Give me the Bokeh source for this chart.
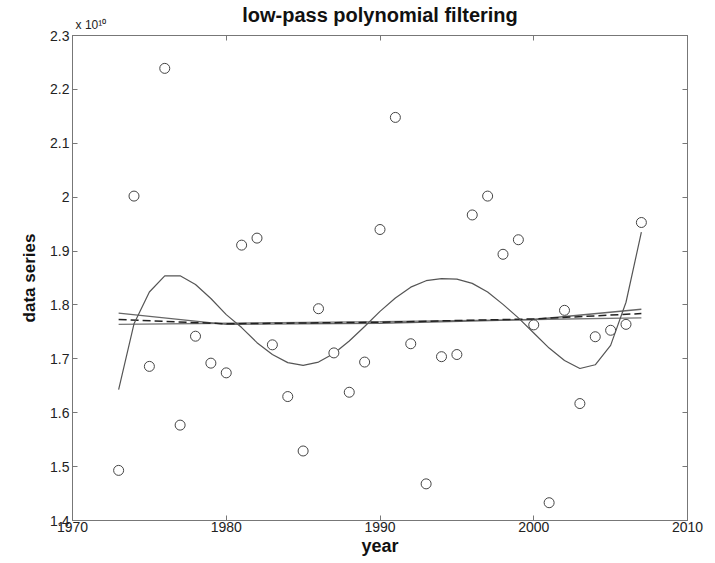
from bokeh.plotting import figure
from bokeh.models import FixedTicker, LinearAxis, Range1d
from bokeh.embed import file_html
from bokeh.resources import INLINE

# values in units of 1e10
years = list(range(1973, 2008))
data_series = [1.493, 2.002, 1.686, 2.239, 1.577, 1.742, 1.692, 1.674, 1.911, 1.924,
               1.726, 1.630, 1.529, 1.793, 1.711, 1.638, 1.694, 1.940, 2.148, 1.728,
               1.468, 1.704, 1.708, 1.967, 2.002, 1.894, 1.921, 1.763, 1.433, 1.790,
               1.617, 1.741, 1.753, 1.764, 1.953]

# high-order low-pass fit, read per year
high_fit = [1.643, 1.765, 1.824, 1.854, 1.854, 1.838, 1.812, 1.782, 1.758, 1.730,
            1.708, 1.693, 1.688, 1.694, 1.710, 1.733, 1.760, 1.788, 1.813, 1.833,
            1.845, 1.849, 1.848, 1.840, 1.824, 1.801, 1.776, 1.748, 1.720, 1.697,
            1.682, 1.689, 1.725, 1.805, 1.935]

# low-order fits
low_years = [1973, 1980, 1990, 2000, 2007]
fit_deg1 = [1.764, 1.766, 1.769, 1.773, 1.776]
fit_deg2 = [1.785, 1.764, 1.766, 1.773, 1.792]
fit_deg3 = [1.773, 1.765, 1.768, 1.774, 1.784]

x_ticks = [1970, 1980, 1990, 2000, 2010]
y_ticks = [1.4, 1.5, 1.6, 1.7, 1.8, 1.9, 2.0, 2.1, 2.2, 2.3]
y_tick_labels = ["1.4", "1.5", "1.6", "1.7", "1.8", "1.9", "2", "2.1", "2.2", "2.3"]
title_text = "low-pass polynomial filtering"
exponent_text = "x 10\u00b9\u2070"
exponent_pos = 1971.2

FONT = "Liberation Sans"
AX = "#777777"

p = figure(width=715, height=563, output_backend="svg", toolbar_location=None,
           x_range=Range1d(1970, 2010), y_range=Range1d(1.4, 2.3),
           min_border_left=72, min_border_right=28, min_border_top=34, min_border_bottom=43,
           title=None)
p.background_fill_color = "white"
p.border_fill_color = "white"
p.outline_line_color = AX
p.grid.visible = False

for ax in (p.xaxis[0], p.yaxis[0]):
    ax.axis_line_color = AX
    ax.major_tick_line_color = AX
    ax.major_tick_in = 5
    ax.major_tick_out = 0
    ax.minor_tick_line_color = None
    ax.major_label_text_font = FONT
    ax.major_label_text_font_size = "14px"
    ax.major_label_text_color = "#222222"
    ax.axis_label_text_font = FONT
    ax.axis_label_text_font_style = "bold"
    ax.axis_label_text_color = "#111111"

p.xaxis[0].ticker = FixedTicker(ticks=x_ticks)
p.xaxis[0].axis_label = "year"
p.xaxis[0].axis_label_text_font_size = "18px"
p.xaxis[0].major_label_standoff = 1
p.xaxis[0].axis_label_standoff = 1
p.yaxis[0].ticker = FixedTicker(ticks=y_ticks)
p.yaxis[0].major_label_overrides = {t: s for t, s in zip(y_ticks, y_tick_labels)}
p.yaxis[0].axis_label = "data series"
p.yaxis[0].axis_label_text_font_size = "17px"
p.yaxis[0].major_label_standoff = 3
p.yaxis[0].axis_label_standoff = 8

# top: box ticks (as minor ticks), the exponent marker and the title
top = LinearAxis(ticker=FixedTicker(ticks=[exponent_pos], minor_ticks=x_ticks),
                 major_label_overrides={exponent_pos: exponent_text},
                 major_label_text_font=FONT, major_label_text_font_size="12px",
                 major_label_text_color="#222222", major_label_standoff=-2,
                 axis_line_color=AX, major_tick_line_color=None,
                 minor_tick_line_color=AX, minor_tick_in=5, minor_tick_out=0,
                 axis_label=title_text, axis_label_text_font=FONT,
                 axis_label_text_font_size="20px", axis_label_text_font_style="bold",
                 axis_label_text_color="#111111", axis_label_standoff=-11)
right = LinearAxis(ticker=FixedTicker(ticks=y_ticks),
                   major_label_overrides={t: "" for t in y_ticks},
                   major_label_text_font_size="1px",
                   axis_line_color=AX, major_tick_line_color=AX,
                   major_tick_in=5, major_tick_out=0, minor_tick_line_color=None,
                   major_label_standoff=0)
p.add_layout(top, "above")
p.add_layout(right, "right")

# fits
p.line(low_years, fit_deg1, line_color="#777777", line_width=1.3)
p.line(low_years, fit_deg2, line_color="#666666", line_width=1.3)
p.line(low_years, fit_deg3, line_color="#222222", line_width=1.5, line_dash="8 4")
p.line(years, high_fit, line_color="#555555", line_width=1.2)

# data
p.scatter(years, data_series, marker="circle", size=10, fill_color="white",
          line_color="#444444", line_width=1)

open("out.html", "w").write(file_html(p, INLINE))
